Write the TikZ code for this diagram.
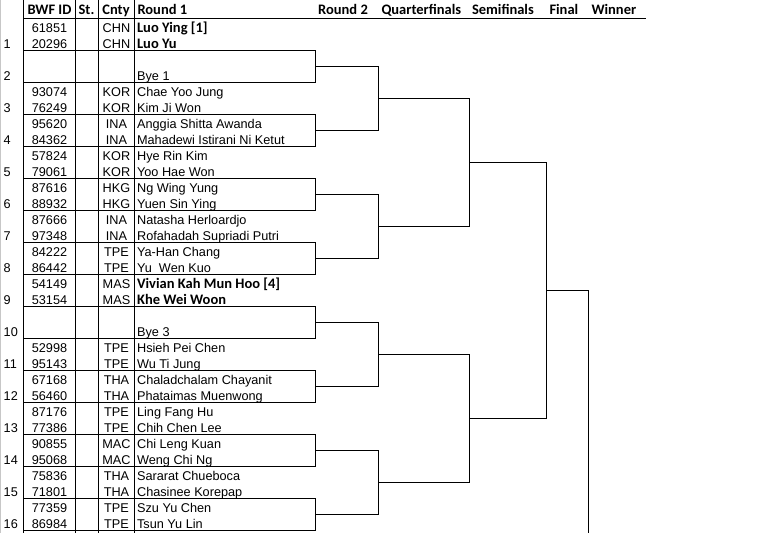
\documentclass[tikz,border=0pt]{standalone}
\usepackage{fontspec}
\setmainfont{Liberation Sans}
\newfontfamily\calib{Carlito}
\tikzset{
  grid/.style={line width=1pt, black},
  lightgrid/.style={line width=1pt, black!22},
  hdr/.style={inner sep=0pt, anchor=base, font=\calib\bfseries\fontsize{14.5}{16}\selectfont},
  hdrw/.style={hdr, anchor=base west},
  data/.style={inner sep=0pt, anchor=base, font=\fontsize{12.7}{14}\selectfont},
  namer/.style={data, anchor=base west},
  nameb/.style={inner sep=0pt, anchor=base west, font=\calib\bfseries\fontsize{14.5}{16}\selectfont},
  num/.style={data, anchor=base west},
}
\begin{document}
\begin{tikzpicture}[x=1pt, y=-1pt]
\useasboundingbox (0,0) rectangle (779,533);
\fill[white] (0,0) rectangle (779,533);
% left border
\draw[lightgrid] (0.5,0) -- (0.5,533);
% column lines
\foreach \cx in {23.5,75.5,98.5,134.5} \draw[grid] (\cx,0) -- (\cx,533);
% header rule
\draw[grid] (23,18.5) -- (646,18.5);
% entry boundaries
\foreach \k in {1,...,16} \draw[grid] (23,{18.5+32*\k}) -- (135,{18.5+32*\k});
% boxes for even entries
\foreach \e in {2,4,...,16}
  \draw[grid] (134.5,{18.5+32*(\e-1)}) -- (315.5,{18.5+32*(\e-1)}) -- (315.5,{18.5+32*\e}) -- (134.5,{18.5+32*\e});
% header texts
\node[hdr] (hid) at (49.5,14.5) {BWF ID};
\node[hdr] (hst) at (86.5,14.5) {St.};
\node[hdr] (hcn) at (116,14.5) {Cnty};
\node[hdrw] (hr1) at (137.3,14.5) {Round 1};
\node[hdrw] (hr2) at (318,14.5) {Round 2};
\node[hdrw] (hqf) at (381.3,14.5) {Quarterfinals};
\node[hdrw] (hsf) at (471.8,14.5) {Semifinals};
\node[hdrw] (hfi) at (549.3,14.5) {Final};
\node[hdrw] (hwi) at (591.3,14.5) {Winner};
% entry numbers
\foreach \k in {1,...,16}
  \node[num] (n\k) at (3.5,{32.3+16*(2*\k-1)}) {\k};
% players
\foreach \r/\id/\c/\n/\s in {
  0/61851/CHN/Luo Ying [1]/nameb,
  1/20296/CHN/Luo Yu/nameb,
  4/93074/KOR/Chae Yoo Jung/namer,
  5/76249/KOR/Kim Ji Won/namer,
  6/95620/INA/Anggia Shitta Awanda/namer,
  7/84362/INA/Mahadewi Istirani Ni Ketut/namer,
  8/57824/KOR/Hye Rin Kim/namer,
  9/79061/KOR/Yoo Hae Won/namer,
  10/87616/HKG/Ng Wing Yung/namer,
  11/88932/HKG/Yuen Sin Ying/namer,
  12/87666/INA/Natasha Herloardjo/namer,
  13/97348/INA/Rofahadah Supriadi Putri/namer,
  14/84222/TPE/Ya-Han Chang/namer,
  15/86442/TPE/Yu\ \ Wen Kuo/namer,
  16/54149/MAS/Vivian Kah Mun Hoo [4]/nameb,
  17/53154/MAS/Khe Wei Woon/nameb,
  20/52998/TPE/Hsieh Pei Chen/namer,
  21/95143/TPE/Wu Ti Jung/namer,
  22/67168/THA/Chaladchalam Chayanit/namer,
  23/56460/THA/Phataimas Muenwong/namer,
  24/87176/TPE/Ling Fang Hu/namer,
  25/77386/TPE/Chih Chen Lee/namer,
  26/90855/MAC/Chi Leng Kuan/namer,
  27/95068/MAC/Weng Chi Ng/namer,
  28/75836/THA/Sararat Chueboca/namer,
  29/71801/THA/Chasinee Korepap/namer,
  30/77359/TPE/Szu Yu Chen/namer,
  31/86984/TPE/Tsun Yu Lin/namer}
{
  \node[data] (id\r) at (49.5,{32.3+16*\r}) {\id};
  \node[data] (cn\r) at (116.5,{32.3+16*\r}) {\c};
  \node[\s] (nm\r) at (136.9,{32.3+16*\r}) {\n};
}
\node[namer] (nm3) at (136.9,{32.3+16*3}) {Bye 1};
\node[namer] (nm19) at (136.9,{32.3+16*19}) {Bye 3};
% bracket coordinates
\foreach \e in {2,4,...,16}
  \coordinate (b\e) at (315.5,{34.5+32*(\e-1)});
\coordinate (r2a) at (378.5,98.5);
\coordinate (r2b) at (378.5,226.5);
\coordinate (r2c) at (378.5,354.5);
\coordinate (r2d) at (378.5,482.5);
\coordinate (qfa) at (469.5,162.5);
\coordinate (qfb) at (469.5,418.5);
\coordinate (sfa) at (546.5,290.5);
\coordinate (fin) at (588.5,290.5);
\coordinate (finend) at (588.5,533);
% round 1 -> round 2
\draw[grid] (b2) -| (r2a); \draw[grid] (b4) -| (r2a);
\draw[grid] (b6) -| (r2b); \draw[grid] (b8) -| (r2b);
\draw[grid] (b10) -| (r2c); \draw[grid] (b12) -| (r2c);
\draw[grid] (b14) -| (r2d); \draw[grid] (b16) -| (r2d);
% round 2 -> quarterfinals
\draw[grid] (r2a) -| (qfa); \draw[grid] (r2b) -| (qfa);
\draw[grid] (r2c) -| (qfb); \draw[grid] (r2d) -| (qfb);
% quarterfinals -> semifinals
\draw[grid] (qfa) -| (sfa); \draw[grid] (qfb) -| (sfa);
% semifinal -> final
\draw[grid] (sfa) -- (fin) -- (finend);
\end{tikzpicture}
\end{document}
